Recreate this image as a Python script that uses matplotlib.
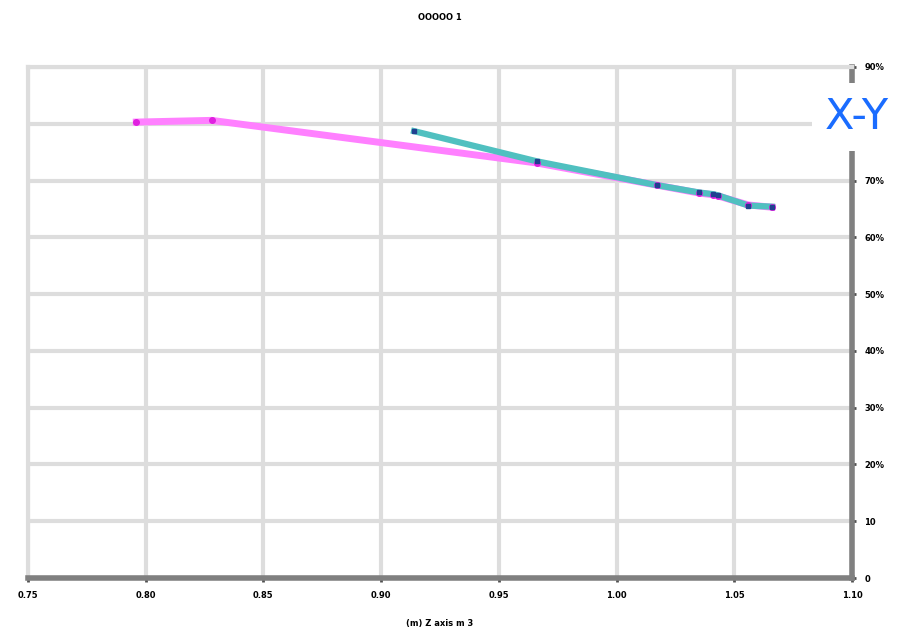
import matplotlib
matplotlib.use('Agg')
import matplotlib.pyplot as plt

# valeurs
x_pink = [0.796, 0.828, 0.966, 1.017, 1.035, 1.041, 1.043, 1.056, 1.066]
y_pink = [0.803, 0.806, 0.731, 0.692, 0.678, 0.675, 0.673, 0.657, 0.653]
x_teal = [0.914, 0.966, 1.017, 1.035, 1.041, 1.043, 1.056, 1.066]
y_teal = [0.787, 0.734, 0.692, 0.679, 0.676, 0.674, 0.656, 0.654]
x_ticks = [0.75, 0.80, 0.85, 0.90, 0.95, 1.00, 1.05, 1.10]
x_labels = ['0.75', '0.80', '0.85', '0.90', '0.95', '1.00', '1.05', '1.10']
y_ticks = [0, 0.1, 0.2, 0.3, 0.4, 0.5, 0.6, 0.7, 0.8, 0.9]
# le label 80% est caché par la boîte X-Y dans l'original
y_labels = ['0', '10', '20%', '30%', '40%', '50%', '60%', '70%', '', '90%']

fig = plt.figure(figsize=(8.97, 6.39), dpi=100)
ax = fig.add_axes([28/897, 61/639, 824/897, 511/639])

ax.plot(x_pink, y_pink, color='#ff80ff', lw=5, zorder=3)
ax.plot(x_teal, y_teal, color='#50c0c0', lw=4.5, zorder=4)
ax.plot(x_pink, y_pink, ls='none', marker='o', ms=4, color='#e020e0', zorder=5)
ax.plot(x_teal, y_teal, ls='none', marker='s', ms=3, color='#204090', zorder=6)

ax.set_xlim(0.75, 1.10)
ax.set_ylim(0, 0.9)
ax.set_xticks(x_ticks)
ax.set_xticklabels(x_labels, fontsize=6, fontweight='bold')
ax.set_yticks(y_ticks)
ax.set_yticklabels(y_labels, fontsize=6, fontweight='bold')
ax.yaxis.tick_right()
ax.tick_params(axis='both', length=3, width=2, color='#505050', pad=6)

ax.grid(True, color='#dddddd', lw=3, zorder=0)
ax.set_axisbelow(True)
for s in ['left', 'top']:
    ax.spines[s].set_color('#dddddd')
    ax.spines[s].set_linewidth(3)
for s in ['bottom', 'right']:
    ax.spines[s].set_color('#808080')
    ax.spines[s].set_linewidth(4)

ax.set_title('OOOOO 1', fontsize=6, fontweight='bold', pad=34)
ax.set_xlabel('(m) Z axis m 3', fontsize=6, fontweight='bold', labelpad=14)

fig.text(0.955, 0.817, 'X-Y', color='#1a6cff', fontsize=31, ha='center', va='center',
         bbox=dict(facecolor='white', edgecolor='none', boxstyle='square,pad=0.3'))

fig.savefig('out.png', dpi=100)
